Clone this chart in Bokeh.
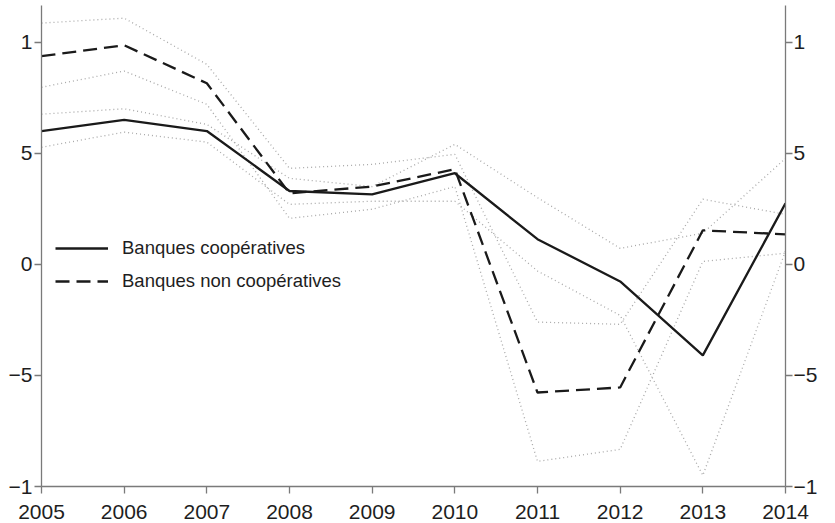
from bokeh.plotting import figure
from bokeh.models import Range1d, LinearAxis, Legend, LegendItem, FixedTicker
from bokeh.embed import file_html
from bokeh.resources import INLINE

years = [2005, 2006, 2007, 2008, 2009, 2010, 2011, 2012, 2013, 2014]
coop = [6.0, 6.5, 6.0, 3.3, 3.15, 4.1, 1.13, -0.77, -4.1, 2.75]
noncoop = [9.37, 9.86, 8.15, 3.2, 3.5, 4.28, -5.77, -5.54, 1.53, 1.35]
coop_hi = [6.76, 7.0, 6.3, 3.87, 3.5, 5.4, 3.0, 0.72, 1.4, 4.77]
coop_lo = [5.27, 5.95, 5.5, 2.7, 2.84, 2.84, -0.3, -2.3, -9.5, 0.6]
noncoop_hi = [10.86, 11.08, 9.0, 4.32, 4.5, 4.95, -2.6, -2.7, 2.93, 2.25]
noncoop_lo = [7.97, 8.7, 7.2, 2.07, 2.48, 3.5, -8.87, -8.33, 0.13, 0.5]

y_ticks = [10, 5, 0, -5, -10]
y_tick_labels = ["1", "5", "0", "\u22125", "\u22121"]
legend_labels = ["Banques coopératives", "Banques non coopératives"]

FONT = "Liberation Sans"
AXIS_COLOR = "#7a7a7a"
TEXT_COLOR = "#1e1e1e"

p = figure(width=835, height=523, output_backend="svg", toolbar_location=None,
           x_range=Range1d(2005, 2014), y_range=Range1d(-10, 11.65),
           min_border_left=41, min_border_right=50, min_border_top=5, min_border_bottom=37,
           y_axis_location=None)
p.outline_line_color = None
p.grid.visible = False
p.background_fill_color = "white"
p.border_fill_color = "white"

dot_kw = dict(line_color="#a8a8a8", line_width=1.3, line_dash="1 3")
for band in (coop_hi, coop_lo, noncoop_hi, noncoop_lo):
    p.line(years, band, **dot_kw)

r_coop = p.line(years, coop, line_color="#1a1a1a", line_width=2.3)
r_non = p.line(years, noncoop, line_color="#1a1a1a", line_width=2.3, line_dash="14 7")

xa = p.xaxis[0]
xa.ticker = FixedTicker(ticks=years)
overrides_y = {t: l for t, l in zip(y_ticks, y_tick_labels)}

def style(ax):
    ax.axis_line_color = AXIS_COLOR
    ax.axis_line_width = 1.3
    ax.major_tick_line_color = AXIS_COLOR
    ax.major_tick_line_width = 1.3
    ax.major_tick_out = 7
    ax.major_tick_in = 0
    ax.minor_tick_line_color = None
    ax.major_label_text_font = FONT
    ax.major_label_text_font_size = "21px"
    ax.major_label_text_color = TEXT_COLOR

style(xa)
xa.major_label_standoff = 11

ya_l = LinearAxis(ticker=FixedTicker(ticks=y_ticks), major_label_overrides=overrides_y)
ya_r = LinearAxis(ticker=FixedTicker(ticks=y_ticks), major_label_overrides=overrides_y)
style(ya_l)
style(ya_r)
ya_l.major_label_standoff = 2
ya_r.major_label_standoff = 1
p.add_layout(ya_l, "left")
p.add_layout(ya_r, "right")

legend = Legend(items=[LegendItem(label=legend_labels[0], renderers=[r_coop]),
                       LegendItem(label=legend_labels[1], renderers=[r_non])],
                location=(14, 194))
legend.border_line_color = None
legend.background_fill_alpha = 0
legend.label_text_font = FONT
legend.label_text_font_size = "18.5px"
legend.label_text_color = TEXT_COLOR
legend.glyph_width = 53
legend.glyph_height = 20
legend.label_standoff = 14
legend.spacing = 11
legend.padding = 0
legend.margin = 0
p.add_layout(legend, "center")

open("out.html", "w").write(file_html(p, INLINE))
